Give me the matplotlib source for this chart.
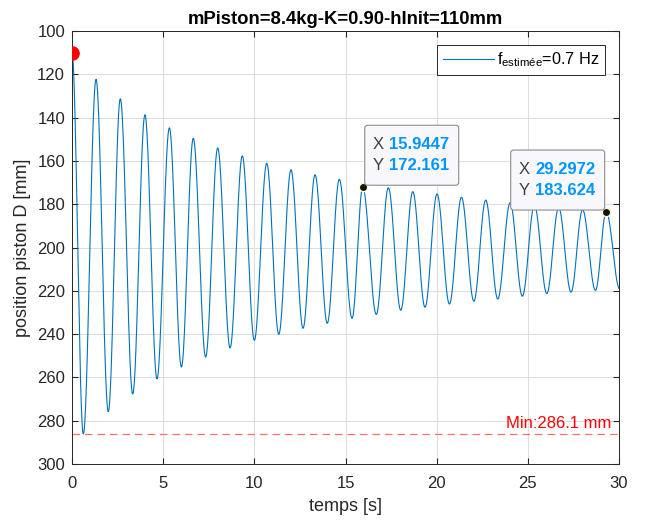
import numpy as np
import matplotlib
matplotlib.use('Agg')
import matplotlib.pyplot as plt
from matplotlib.patches import FancyBboxPatch
from matplotlib.transforms import IdentityTransform

plt.rcParams['font.family'] = ['Liberation Sans', 'DejaVu Sans']
plt.rcParams['mathtext.fontset'] = 'custom'
plt.rcParams['mathtext.rm'] = 'Liberation Sans'

# Values (time in s, position in mm)
t_start, y_start = 0.0, 110.0
peak_t = [1.32, 2.65, 4.00, 5.34, 6.65, 7.99, 9.34, 10.68, 12.01, 13.33, 14.66,
          15.9447, 17.35, 18.69, 20.02, 21.36, 22.69, 24.03, 25.36, 26.69, 28.00, 29.2972]
peak_y = [122.3, 131.3, 138.7, 144.7, 149.6, 154.0, 157.7, 161.1, 164.1, 166.4, 168.5,
          172.161, 172.4, 174.2, 175.3, 176.8, 178.1, 179.3, 180.5, 181.6, 182.6, 183.624]
trough_t = [0.62, 1.99, 3.33, 4.66, 6.00, 7.33, 8.67, 10.00, 11.34, 12.67, 14.00,
            15.36, 16.69, 18.03, 19.36, 20.70, 22.04, 23.35, 24.70, 26.04, 27.37, 28.71, 30.04]
trough_y = [286.1, 275.8, 267.7, 260.7, 255.2, 250.6, 246.4, 242.9, 240.1, 237.3, 235.0,
            232.7, 230.9, 229.0, 227.6, 226.1, 224.8, 223.8, 222.5, 221.3, 220.6, 219.8, 219.2]

tips = [(15.9447, 172.161), (29.2972, 183.624)]
y_min = 286.1
f_est = 0.7

# smooth half-waves between successive extrema
ext = sorted([(t_start, y_start)] + list(zip(peak_t, peak_y)) + list(zip(trough_t, trough_y)))
tt, yy = [], []
for (t0, y0), (t1, y1) in zip(ext[:-1], ext[1:]):
    s = np.linspace(0, 1, 40, endpoint=False)
    tt.extend(t0 + (t1 - t0) * s)
    yy.extend(y0 + (y1 - y0) * (1 - np.cos(np.pi * s)) / 2)
tt.append(ext[-1][0])
yy.append(ext[-1][1])

fig = plt.figure(figsize=(6.45, 5.21), dpi=100)
ax = fig.add_axes([72 / 645, 1 - 464 / 521, (619 - 72) / 645, (464 - 31) / 521])

dark = '#262626'
ax.plot(tt, yy, color='#0072BD', lw=0.8, label=r'f$_{\mathrm{estimée}}$=%.1f Hz' % f_est)
ax.plot(t_start, y_start, 'o', color='red', ms=9.5, zorder=5)
ax.axhline(y_min, color='#FF6F6F', ls=(0, (6, 4)), lw=0.9)
ax.text(29.6, y_min - 1.3, 'Min:%.1f mm' % y_min, color='red', ha='right', va='bottom', fontsize=12)

ax.set_xlim(0, 30)
ax.set_ylim(300, 100)
ax.set_xticks(np.arange(0, 31, 5))
ax.set_yticks(np.arange(100, 301, 20))
ax.grid(True, color='#DCDCDC', lw=0.7)
ax.set_axisbelow(True)
ax.tick_params(direction='in', top=True, right=True, length=4, colors=dark, labelsize=12)
ax.tick_params(axis='x', pad=8.5)
ax.tick_params(axis='y', pad=5)
for sp in ax.spines.values():
    sp.set_color(dark)
    sp.set_linewidth(0.7)

ax.set_xlabel('temps [s]', fontsize=13, color=dark, labelpad=5)
ax.set_ylabel('position piston D [mm]', fontsize=13, color=dark, labelpad=4)
ax.set_title('mPiston=8.4kg-K=0.90-hInit=110mm', fontsize=13.3, fontweight='bold', pad=5)

leg = ax.legend(loc='upper right', fancybox=False, edgecolor=dark, fontsize=11.7,
                handlelength=3.1, handletextpad=0.2, borderpad=0.35, borderaxespad=0.86,
                framealpha=1)
leg.get_frame().set_linewidth(0.7)

# data tips
ident = IdentityTransform()
w, h = 94, 60
for i, (xd, yd) in enumerate(tips):
    ax.plot(xd, yd, 'o', color='#111111', mec='#FFFFC8', ms=6, mew=1, zorder=6)
    px, py = ax.transData.transform((xd, yd))
    if i == 0:
        bx, by = px + 2, py + 2
    else:
        bx, by = px - 1.5 - w, py + 2
    box = FancyBboxPatch((bx, by), w, h, boxstyle='round,pad=0,rounding_size=3',
                         fc='#F8F8FC', ec='#8C8C8C', lw=0.8, transform=ident, zorder=7, clip_on=False)
    ax.add_patch(box)
    for j, (lab, val) in enumerate([('X', '%g' % xd), ('Y', '%g' % yd)]):
        ly = by + h - 19 - j * 21.7
        ax.text(bx + 8, ly, lab, transform=ident, fontsize=12, color='#404040',
                va='center', ha='left', zorder=8)
        ax.text(bx + 24.5, ly, val, transform=ident, fontsize=12, color='#0096FF',
                fontweight='bold', va='center', ha='left', zorder=8)

fig.savefig('out.png', dpi=100)
